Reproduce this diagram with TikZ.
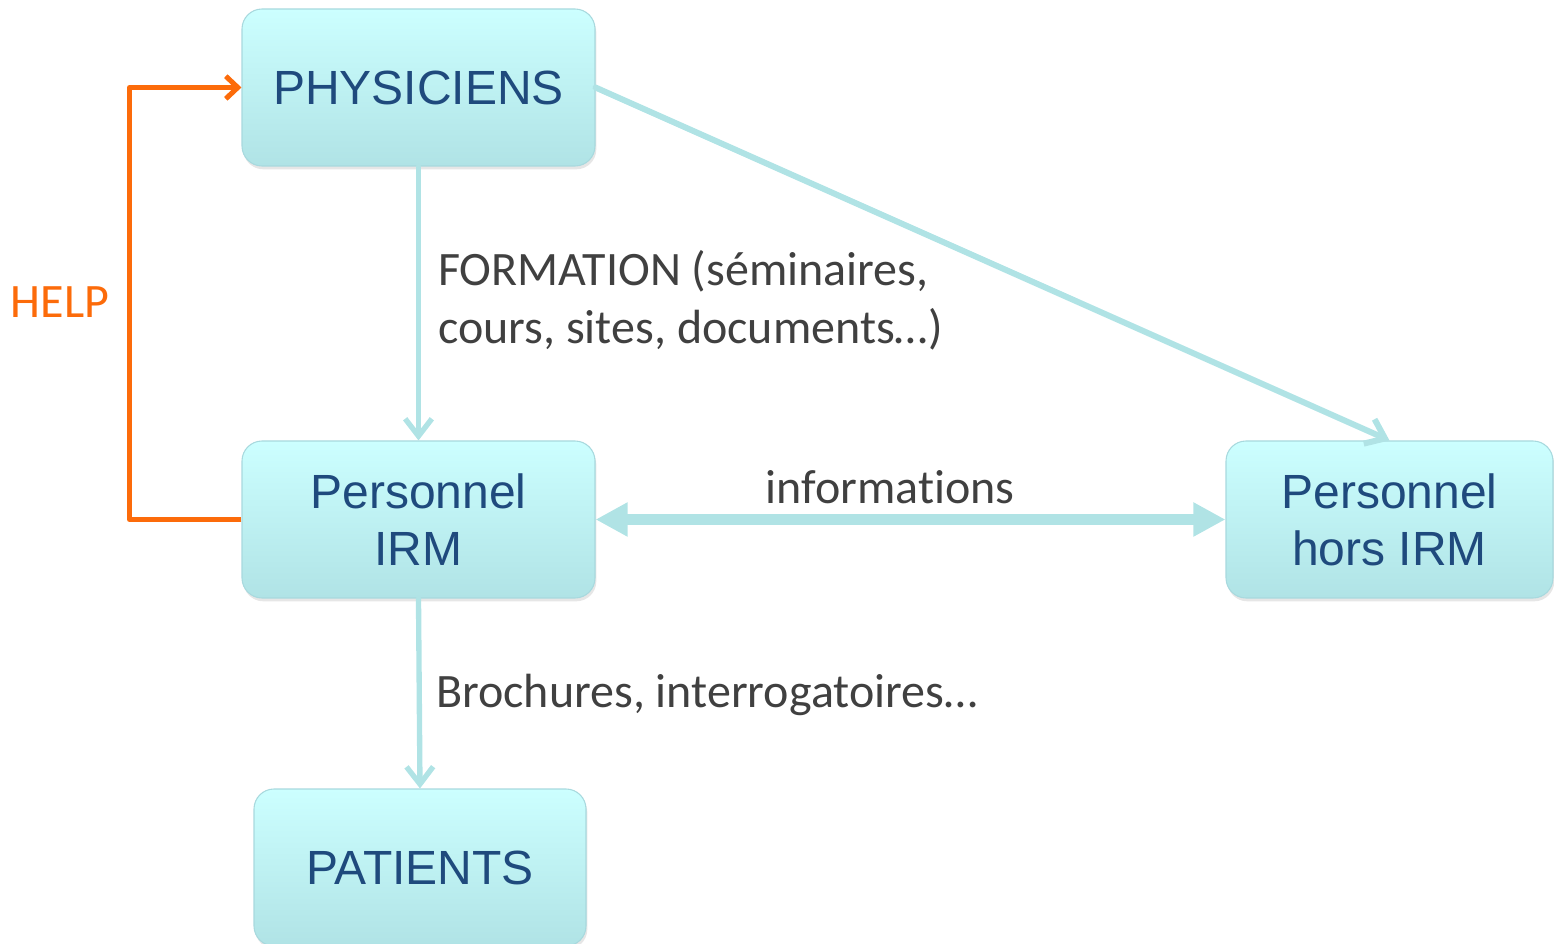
\documentclass[tikz,border=0pt]{standalone}
\usepackage{fontspec}
\setmainfont{Liberation Sans}
\newfontfamily\calibri[Ligatures={NoCommon}]{Carlito}
\usepackage{tikz}
\usetikzlibrary{arrows.meta,shadows}
\definecolor{ccffff}{rgb}{0.8,1,1}
\definecolor{aadddd}{rgb}{0.69,0.89,0.9}
\definecolor{bbdddd}{rgb}{0.66,0.85,0.87}
\definecolor{qqxxbb}{rgb}{0.12,0.29,0.49}
\definecolor{wwwwww}{rgb}{0.25,0.25,0.25}
\definecolor{ffxxqq}{rgb}{0.99,0.42,0.04}

\begin{document}
\begin{tikzpicture}[line cap=round,line join=round,x=0.75pt,y=-0.75pt,
	boite/.style={rounded corners=15pt,draw=bbdddd,line width=0.8pt,top color=ccffff,bottom color=aadddd,
		minimum width=264.75pt,minimum height=117.75pt,align=center,text=qqxxbb,
		font=\fontsize{36}{42.75}\selectfont,
		drop shadow={shadow xshift=1pt,shadow yshift=-2.5pt,opacity=0.2}},
	fleche/.style={color=aadddd,line width=4pt,-{Straight Barb[length=13pt,width=20pt]}},
	legende/.style={text=wwwwww,font=\calibri\fontsize{36}{43.5}\selectfont,align=left,inner sep=0pt}]
			\useasboundingbox (0,0) rectangle (1554,944);
			
			\node[boite] (phys) at (418.5,87.5) {PHYSICIENS};
			\node[boite] (irm) at (418.5,519.5) {Personnel\\IRM};
			\node[boite,minimum width=245.25pt] (hors) at (1389.5,519.5) {Personnel\\hors IRM};
			\node[boite,minimum width=249pt] (pat) at (420,867.5) {PATIENTS};
			
			\draw[fleche] (phys.south) -- (irm.north);
			\draw[fleche,line width=4.5pt] (phys.east) -- (hors.north);
			\draw[fleche] (irm.south) -- (pat.north);
			\draw[color=aadddd,line width=8pt,{Triangle[length=24pt,width=24pt]}-{Triangle[length=24pt,width=24pt]}] (irm.east) -- (hors.west);
			
			\draw[color=ffxxqq,line width=3.8pt,line cap=butt,-{Straight Barb[length=9pt,width=17pt]}] (irm.west) -- ++(-112,0) |- (phys.west);
			
			\node[legende,anchor=west] (form) at (438,300) {FORMATION (séminaires,\\cours, sites, documents…)};
			\node[legende] (info) at (890,487) {informations};
			\node[legende,anchor=west] (broch) at (436,695) {Brochures, interrogatoires…};
			\node[legende,text=ffxxqq] (help) at (60,302) {HELP};
		\end{tikzpicture}
\end{document}
